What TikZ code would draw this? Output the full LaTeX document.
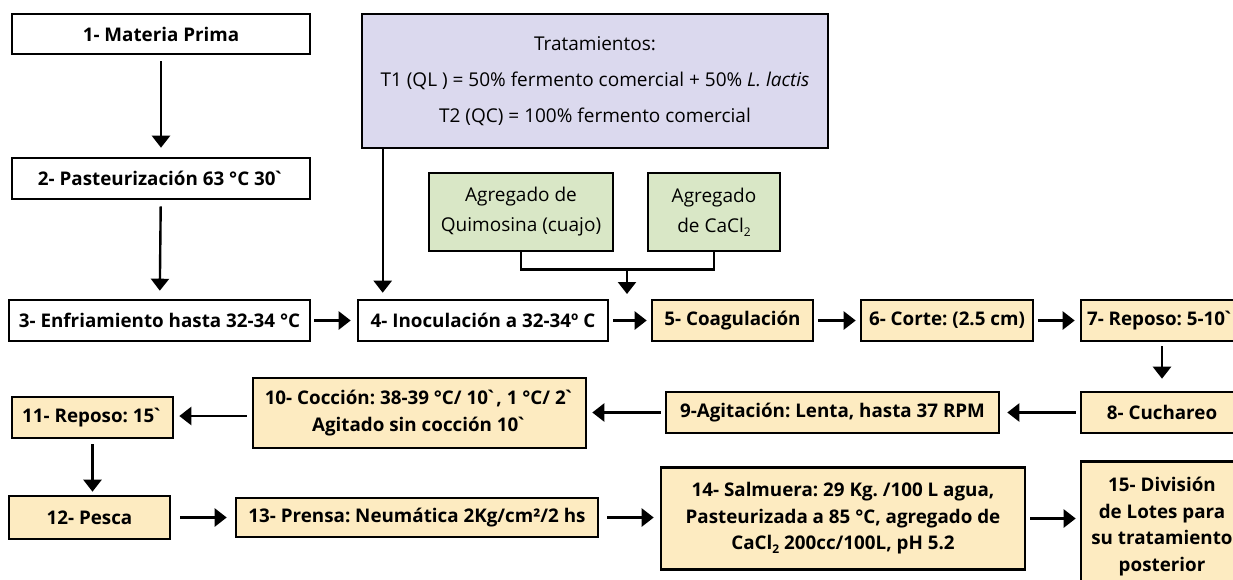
\documentclass[tikz,border=0pt]{standalone}
\usepackage{fontspec}
\setmainfont{Open Sans}[Ligatures=TeXOff]
\frenchspacing
\usetikzlibrary{arrows.meta,calc}
\definecolor{peach}{HTML}{FDEBC1}
\definecolor{sage}{HTML}{D9E7C6}
\definecolor{lav}{HTML}{DBD9EE}
\newcommand{\subtwo}{\raisebox{-0.35ex}{\fontsize{12}{12}\selectfont 2}}
\newcommand{\gr}{\kern-3pt`}
\begin{document}
\begin{tikzpicture}[x=1pt,y=-1pt,
  box/.style={draw,line width=2.6pt,inner sep=0pt,align=center,
    font=\fontsize{18.8}{26.5}\selectfont\bfseries},
  wbox/.style={box,fill=white},
  obox/.style={box,fill=peach},
  gbox/.style={draw,line width=2.6pt,inner sep=0pt,align=center,fill=sage,
    font=\fontsize{19}{30}\selectfont},
  arr/.style={line width=2.4pt,-{Triangle[width=18pt,length=12pt]}},
  plain/.style={line width=2.4pt}]
\useasboundingbox (0,0) rectangle (1233,579);
\clip (0,0) rectangle (1233,579);
% nodes
\node[wbox,minimum width=298pt,minimum height=40pt] (n1) at (161,34) {1- Materia Prima};
\node[wbox,minimum width=298pt,minimum height=41pt] (n2) at (161,178.5) {2- Pasteurizaci\'on 63 °C 30\gr};
\node[wbox,minimum width=301pt,minimum height=41pt] (n3) at (159.5,320.5) {3- Enfriamiento hasta 32-34 °C};
\node[draw,line width=2.6pt,fill=lav,minimum width=466pt,minimum height=134pt,inner sep=0pt,align=center,
  font=\fontsize{19}{36}\selectfont] (T) at (595,81)
  {Tratamientos:\\T1 (QL ) = 50\% fermento comercial + 50\% \textit{L. lactis}\\T2 (QC) = 100\% fermento comercial};
\node[gbox,minimum width=184pt,minimum height=78pt] (g1) at (521,212) {Agregado de\\Quimosina (cuajo)};
\node[gbox,minimum width=132pt,minimum height=78pt] (g2) at (714,212) {Agregado\\de CaCl\subtwo};
\node[wbox,minimum width=250pt,minimum height=41pt] (n4) at (483,320.5) {4- Inoculaci\'on a 32-34º C};
\node[obox,minimum width=161pt,minimum height=41pt] (n5) at (732.5,320.5) {5- Coagulaci\'on};
\node[obox,minimum width=162pt,minimum height=41pt] (n7) at (1162,320.5) {\makebox[150pt][l]{7- Reposo: 5-10\gr}};
\node[obox,minimum width=172pt,minimum height=41pt] (n6) at (947,320.5) {6- Corte: (2.5 cm)};
\node[obox,minimum width=162pt,minimum height=41pt] (n8) at (1162,412.5) {8- Cuchareo};
\node[obox,minimum width=333pt,minimum height=41pt] (n9) at (832.5,412.5) {9-Agitaci\'on: Lenta, hasta 37 RPM};
\node[obox,minimum width=333pt,minimum height=70pt] (n10) at (419.5,413) {10- Cocci\'on: 38-39 °C/ 10\gr, 1 °C/ 2\gr\\Agitado sin cocci\'on 10\gr};
\node[obox,minimum width=161pt,minimum height=41pt] (n11) at (92.5,417.5) {11- Reposo: 15\gr};
\node[obox,minimum width=161pt,minimum height=43pt] (n12) at (89.5,517.5) {12- Pesca};
\node[obox,minimum width=362pt,minimum height=39pt] (n13) at (417,517.5) {13- Prensa: Neum\'atica 2Kg/cm²/2 hs};
\node[obox,minimum width=364pt,minimum height=102pt] (n14) at (843,518.5) {14- Salmuera: 29 Kg. /100 L agua,\\Pasteurizada a 85 °C, agregado de\\CaCl\subtwo{} 200cc/100L, pH 5.2};
\node[obox,minimum width=162pt,minimum height=130pt] (n15) at (1162,526.5) {15- Divisi\'on\\de Lotes para\\su tratamiento\\posterior};
% connectors
\draw[arr,shorten <=6pt,shorten >=9pt] (n1) -- (n2);
\draw[arr,shorten <=6pt,shorten >=8pt] (n2) -- (n3);
\draw[arr,shorten <=3pt,shorten >=6pt] (n3) -- (n4);
\draw[arr,shorten >=6pt] ([xshift=22pt]T.south west) -- ([xshift=26pt]n4.north west);
\draw[plain] (g1.south) -- ++(0,17) -| (g2.south);
\coordinate (gm) at (627,268);
\coordinate (gt) at (627,294);
\draw[arr] (gm) -- (gt);
\draw[arr,shorten <=4pt,shorten >=4pt] (n4) -- (n5);
\draw[arr,shorten <=4pt,shorten >=4pt] (n5) -- (n6);
\draw[arr,shorten <=4pt,shorten >=5pt] (n6) -- (n7);
\draw[arr,shorten <=4pt,shorten >=12pt] (n7) -- (n8);
\draw[arr,shorten <=4pt,shorten >=7pt] (n8) -- (n9);
\draw[arr,shorten <=4pt,shorten >=5pt] (n9.west) -- (n9.west -| n10.east);
\draw[arr,shorten <=5pt,shorten >=5pt] ([yshift=-3pt]n10.west) -- ([yshift=-3pt]n10.west -| n11.east);
\draw[arr,shorten <=5pt,shorten >=3pt] (n11) -- (n11 |- n12.north);
\draw[arr,shorten <=9pt,shorten >=8pt] (n12) -- (n13);
\draw[arr,shorten <=8pt,shorten >=6pt] (n13.east) -- (n13.east -| n14.west);
\draw[arr,shorten <=4pt,shorten >=4pt] (n14.east) -- (n14.east -| n15.west);
\end{tikzpicture}
\end{document}
